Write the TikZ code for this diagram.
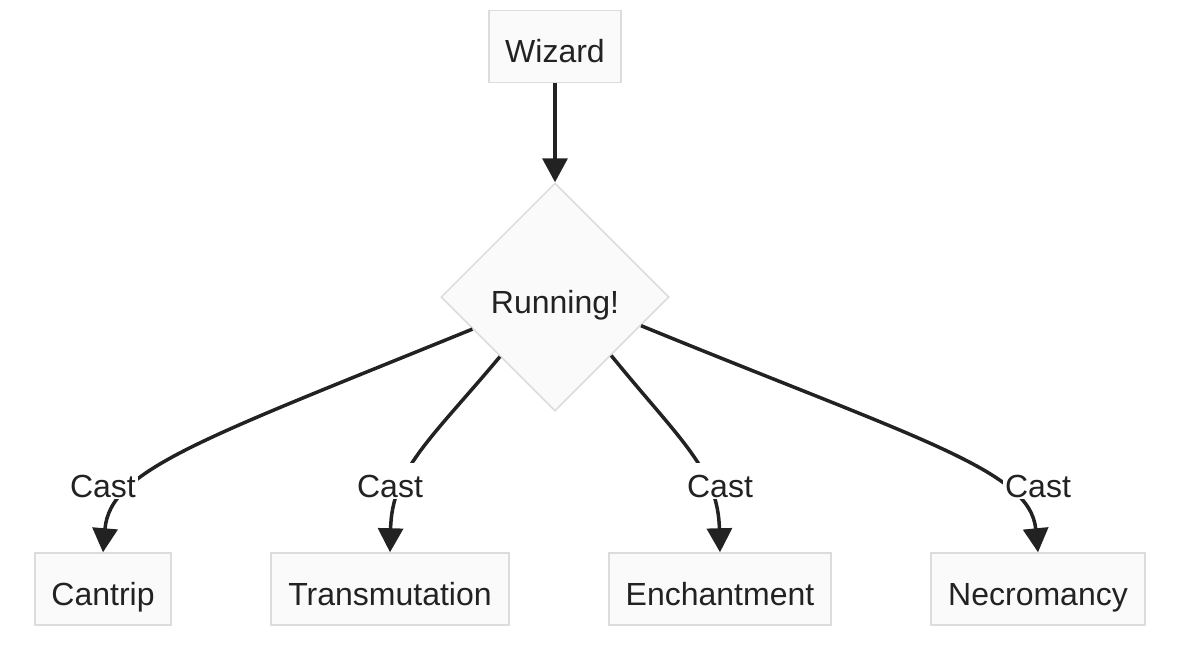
\documentclass[tikz,border=0pt]{standalone}
\usepackage{fontspec}
\setmainfont{Liberation Sans}
\usetikzlibrary{shapes.geometric,arrows.meta,calc}
\definecolor{boxfill}{HTML}{FAFAFA}
\definecolor{boxline}{HTML}{DCDCDC}
\definecolor{ink}{HTML}{222222}
\begin{document}
\begin{tikzpicture}[x=1pt,y=-1pt,
  every node/.style={font=\fontsize{32}{38}\selectfont, text=ink, text height=32pt, text depth=0pt},
  box/.style={draw=boxline, fill=boxfill, line width=1.5pt, minimum height=72pt, inner xsep=15pt, inner ysep=0pt},
  decision/.style={diamond, aspect=1, draw=boxline, fill=boxfill, line width=1.5pt, minimum width=228pt, minimum height=228pt, inner sep=0pt},
  lbl/.style={fill=white, inner sep=2pt},
  conn/.style={draw=ink, line width=3.5pt, -{Triangle[width=25pt,length=24pt]}}
]
\useasboundingbox (0,0) rectangle (1190,646);
\node[box, minimum width=132pt] (W) at (555,46.5) {Wizard};
\node[decision] (R) at (555,297) {Running!};
\node[box, minimum width=136pt] (C) at (103,589) {Cantrip};
\node[box, minimum width=238pt] (T) at (390,589) {Transmutation};
\node[box, minimum width=222pt] (E) at (720,589) {Enchantment};
\node[box, minimum width=214pt] (N) at (1038,589) {Necromancy};

\draw[conn] (W.south) -- (R.north);
\draw[conn] ($(R.west)!0.28!(R.south)$) .. controls (200,440) and (110,470) .. (C.north);
\draw[conn] ($(R.west)!0.52!(R.south)$) .. controls (430,440) and (392,470) .. (T.north);
\draw[conn] ($(R.east)!0.51!(R.south)$) .. controls (680,440) and (718,470) .. (E.north);
\draw[conn] ($(R.east)!0.25!(R.south)$) .. controls (920,440) and (1030,470) .. (N.north);

\node[lbl] (l1) at (103,481) {Cast};
\node[lbl] (l2) at (390,481) {Cast};
\node[lbl] (l3) at (720,481) {Cast};
\node[lbl] (l4) at (1038,481) {Cast};
\end{tikzpicture}
\end{document}
